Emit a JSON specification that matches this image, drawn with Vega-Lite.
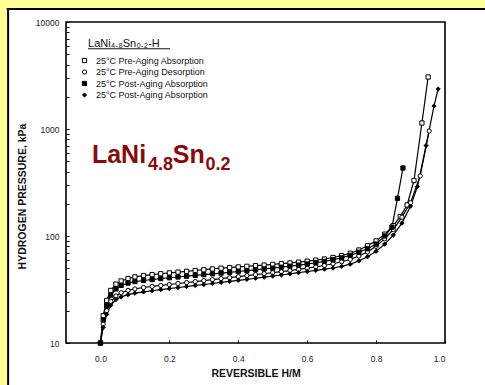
{
  "$schema": "https://vega.github.io/schema/vega-lite/v6.json",
  "width": 379,
  "height": 321,
  "autosize": {"type": "none"},
  "padding": {"left": 66, "top": 22, "right": 40, "bottom": 42},
  "background": "white",
  "config": {
    "view": {"stroke": "black", "strokeWidth": 1.6},
    "font": "Liberation Sans",
    "axis": {"grid": false, "domain": false, "tickColor": "black", "labelColor": "#222", "labelFontSize": 8.5, "titleColor": "#111", "titleFontSize": 10.5, "titleFontWeight": "bold"}
  },
  "datasets": {
    "iso": [
      {"s": "A", "x": 0, "p": 10}, {"s": "A", "x": 0.008, "p": 18}, {"s": "A", "x": 0.018, "p": 25}, {"s": "A", "x": 0.03, "p": 31}, {"s": "A", "x": 0.045, "p": 35.5}, {"s": "A", "x": 0.06, "p": 38}, {"s": "A", "x": 0.08, "p": 40}, {"s": "A", "x": 0.1, "p": 41.5}, {"s": "A", "x": 0.125, "p": 42.7}, {"s": "A", "x": 0.15, "p": 43.6}, {"s": "A", "x": 0.175, "p": 44.4}, {"s": "A", "x": 0.2, "p": 45.2}, {"s": "A", "x": 0.225, "p": 46}, {"s": "A", "x": 0.25, "p": 46.8}, {"s": "A", "x": 0.275, "p": 47.6}, {"s": "A", "x": 0.3, "p": 48.4}, {"s": "A", "x": 0.325, "p": 49.2}, {"s": "A", "x": 0.35, "p": 50}, {"s": "A", "x": 0.375, "p": 50.7}, {"s": "A", "x": 0.4, "p": 51.4}, {"s": "A", "x": 0.425, "p": 52.1}, {"s": "A", "x": 0.45, "p": 52.8}, {"s": "A", "x": 0.475, "p": 53.5}, {"s": "A", "x": 0.5, "p": 54.3}, {"s": "A", "x": 0.525, "p": 55.1}, {"s": "A", "x": 0.55, "p": 56}, {"s": "A", "x": 0.575, "p": 57}, {"s": "A", "x": 0.6, "p": 58.2}, {"s": "A", "x": 0.625, "p": 59.5}, {"s": "A", "x": 0.65, "p": 61}, {"s": "A", "x": 0.675, "p": 63}, {"s": "A", "x": 0.7, "p": 65.5}, {"s": "A", "x": 0.725, "p": 69}, {"s": "A", "x": 0.75, "p": 74}, {"s": "A", "x": 0.775, "p": 81}, {"s": "A", "x": 0.8, "p": 90}, {"s": "A", "x": 0.825, "p": 104}, {"s": "A", "x": 0.85, "p": 125}, {"s": "A", "x": 0.87, "p": 152}, {"s": "A", "x": 0.89, "p": 195}, {"s": "A", "x": 0.91, "p": 330}, {"s": "A", "x": 0.933, "p": 1138}, {"s": "A", "x": 0.951, "p": 3060},
      {"s": "B", "x": 0, "p": 10}, {"s": "B", "x": 0.008, "p": 15}, {"s": "B", "x": 0.018, "p": 20}, {"s": "B", "x": 0.03, "p": 24.5}, {"s": "B", "x": 0.045, "p": 27.5}, {"s": "B", "x": 0.06, "p": 29.5}, {"s": "B", "x": 0.08, "p": 31}, {"s": "B", "x": 0.1, "p": 32}, {"s": "B", "x": 0.125, "p": 33}, {"s": "B", "x": 0.15, "p": 33.8}, {"s": "B", "x": 0.175, "p": 34.5}, {"s": "B", "x": 0.2, "p": 35.2}, {"s": "B", "x": 0.225, "p": 36}, {"s": "B", "x": 0.25, "p": 36.7}, {"s": "B", "x": 0.275, "p": 37.5}, {"s": "B", "x": 0.3, "p": 38.3}, {"s": "B", "x": 0.325, "p": 39.1}, {"s": "B", "x": 0.35, "p": 40}, {"s": "B", "x": 0.375, "p": 40.8}, {"s": "B", "x": 0.4, "p": 41.7}, {"s": "B", "x": 0.425, "p": 42.6}, {"s": "B", "x": 0.45, "p": 43.5}, {"s": "B", "x": 0.475, "p": 44.4}, {"s": "B", "x": 0.5, "p": 45.4}, {"s": "B", "x": 0.525, "p": 46.4}, {"s": "B", "x": 0.55, "p": 47.5}, {"s": "B", "x": 0.575, "p": 48.7}, {"s": "B", "x": 0.6, "p": 50}, {"s": "B", "x": 0.625, "p": 51.4}, {"s": "B", "x": 0.65, "p": 53}, {"s": "B", "x": 0.675, "p": 55}, {"s": "B", "x": 0.7, "p": 57.5}, {"s": "B", "x": 0.725, "p": 60.5}, {"s": "B", "x": 0.75, "p": 65}, {"s": "B", "x": 0.775, "p": 71}, {"s": "B", "x": 0.8, "p": 80}, {"s": "B", "x": 0.825, "p": 94}, {"s": "B", "x": 0.85, "p": 115}, {"s": "B", "x": 0.875, "p": 150}, {"s": "B", "x": 0.9, "p": 205}, {"s": "B", "x": 0.928, "p": 364}, {"s": "B", "x": 0.954, "p": 957},
      {"s": "C", "x": 0, "p": 10}, {"s": "C", "x": 0.008, "p": 16.5}, {"s": "C", "x": 0.018, "p": 22.5}, {"s": "C", "x": 0.03, "p": 28}, {"s": "C", "x": 0.045, "p": 32}, {"s": "C", "x": 0.06, "p": 34.5}, {"s": "C", "x": 0.08, "p": 36.3}, {"s": "C", "x": 0.1, "p": 37.5}, {"s": "C", "x": 0.125, "p": 38.4}, {"s": "C", "x": 0.15, "p": 39.2}, {"s": "C", "x": 0.175, "p": 40}, {"s": "C", "x": 0.2, "p": 40.7}, {"s": "C", "x": 0.225, "p": 41.4}, {"s": "C", "x": 0.25, "p": 42.1}, {"s": "C", "x": 0.275, "p": 42.8}, {"s": "C", "x": 0.3, "p": 43.5}, {"s": "C", "x": 0.325, "p": 44.3}, {"s": "C", "x": 0.35, "p": 45}, {"s": "C", "x": 0.375, "p": 45.8}, {"s": "C", "x": 0.4, "p": 46.6}, {"s": "C", "x": 0.425, "p": 47.4}, {"s": "C", "x": 0.45, "p": 48.3}, {"s": "C", "x": 0.475, "p": 49.2}, {"s": "C", "x": 0.5, "p": 50.1}, {"s": "C", "x": 0.525, "p": 51.1}, {"s": "C", "x": 0.55, "p": 52.2}, {"s": "C", "x": 0.575, "p": 53.4}, {"s": "C", "x": 0.6, "p": 54.7}, {"s": "C", "x": 0.625, "p": 56.2}, {"s": "C", "x": 0.65, "p": 58}, {"s": "C", "x": 0.675, "p": 60}, {"s": "C", "x": 0.7, "p": 62.5}, {"s": "C", "x": 0.725, "p": 66}, {"s": "C", "x": 0.75, "p": 70.5}, {"s": "C", "x": 0.775, "p": 76}, {"s": "C", "x": 0.8, "p": 84}, {"s": "C", "x": 0.825, "p": 100}, {"s": "C", "x": 0.846, "p": 121}, {"s": "C", "x": 0.862, "p": 225}, {"s": "C", "x": 0.878, "p": 432},
      {"s": "D", "x": 0, "p": 10}, {"s": "D", "x": 0.008, "p": 14}, {"s": "D", "x": 0.018, "p": 18.5}, {"s": "D", "x": 0.03, "p": 22.5}, {"s": "D", "x": 0.045, "p": 25.5}, {"s": "D", "x": 0.06, "p": 27}, {"s": "D", "x": 0.08, "p": 28.3}, {"s": "D", "x": 0.1, "p": 29.2}, {"s": "D", "x": 0.125, "p": 30}, {"s": "D", "x": 0.15, "p": 30.8}, {"s": "D", "x": 0.175, "p": 31.5}, {"s": "D", "x": 0.2, "p": 32.2}, {"s": "D", "x": 0.225, "p": 33}, {"s": "D", "x": 0.25, "p": 33.7}, {"s": "D", "x": 0.275, "p": 34.5}, {"s": "D", "x": 0.3, "p": 35.2}, {"s": "D", "x": 0.325, "p": 36}, {"s": "D", "x": 0.35, "p": 36.8}, {"s": "D", "x": 0.375, "p": 37.6}, {"s": "D", "x": 0.4, "p": 38.5}, {"s": "D", "x": 0.425, "p": 39.4}, {"s": "D", "x": 0.45, "p": 40.3}, {"s": "D", "x": 0.475, "p": 41.2}, {"s": "D", "x": 0.5, "p": 42.2}, {"s": "D", "x": 0.525, "p": 43.2}, {"s": "D", "x": 0.55, "p": 44.3}, {"s": "D", "x": 0.575, "p": 45.4}, {"s": "D", "x": 0.6, "p": 46.6}, {"s": "D", "x": 0.625, "p": 47.8}, {"s": "D", "x": 0.65, "p": 49}, {"s": "D", "x": 0.675, "p": 50.2}, {"s": "D", "x": 0.7, "p": 52}, {"s": "D", "x": 0.725, "p": 54.5}, {"s": "D", "x": 0.75, "p": 58.5}, {"s": "D", "x": 0.775, "p": 64}, {"s": "D", "x": 0.8, "p": 72}, {"s": "D", "x": 0.825, "p": 84}, {"s": "D", "x": 0.85, "p": 102}, {"s": "D", "x": 0.875, "p": 132}, {"s": "D", "x": 0.9, "p": 190}, {"s": "D", "x": 0.92, "p": 290}, {"s": "D", "x": 0.945, "p": 700}, {"s": "D", "x": 0.968, "p": 1640}, {"s": "D", "x": 0.98, "p": 2365}
    ]
  },
  "layer": [
    {
      "data": {"name": "iso"},
      "mark": {"type": "line", "color": "black", "strokeWidth": 1.2},
      "encoding": {
        "x": {
          "field": "x", "type": "quantitative",
          "scale": {"domain": [-0.1, 1.0], "nice": false, "zero": false},
          "axis": {
            "title": "REVERSIBLE H/M",
            "values": [0, 0.05, 0.1, 0.15, 0.2, 0.25, 0.3, 0.35, 0.4, 0.45, 0.5, 0.55, 0.6, 0.65, 0.7, 0.75, 0.8, 0.85, 0.9, 0.95, 1.0],
            "labelExpr": "round(datum.value * 100) % 10 == 0 ? format(datum.value, '.1f') : ''",
            "tickSize": -3,
            "labelPadding": 14,
            "titlePadding": 6
          }
        },
        "y": {
          "field": "p", "type": "quantitative",
          "scale": {"type": "log", "domain": [10, 10000], "nice": false},
          "axis": {
            "title": "HYDROGEN PRESSURE, kPa",
            "titleY": 174,
            "values": [10, 20, 30, 40, 50, 60, 70, 80, 90, 100, 200, 300, 400, 500, 600, 700, 800, 900, 1000, 2000, 3000, 4000, 5000, 6000, 7000, 8000, 9000, 10000],
            "labelExpr": "(datum.value == 10 || datum.value == 100 || datum.value == 1000 || datum.value == 10000) ? format(datum.value, 'd') : ''",
            "tickSize": -3,
            "labelPadding": 10,
            "titlePadding": 8
          }
        },
        "detail": {"field": "s"}
      }
    },
    {
      "data": {"name": "iso"},
      "mark": {"type": "point", "strokeWidth": 1, "opacity": 1, "size": 18, "filled": false},
      "encoding": {
        "x": {"field": "x", "type": "quantitative"},
        "y": {"field": "p", "type": "quantitative"},
        "shape": {
          "field": "s", "type": "nominal",
          "scale": {"domain": ["A", "B", "C", "D"], "range": ["square", "circle", "square", "diamond"]},
          "legend": {"title": null, "orient": "none", "legendX": 14, "legendY": 34, "padding": 0, "labelFontSize": 9, "labelColor": "#111", "labelOffset": 7, "rowPadding": 1.5, "symbolSize": 18, "symbolStrokeWidth": 1,
            "labelExpr": "datum.label == 'A' ? '25°C Pre-Aging Absorption' : datum.label == 'B' ? '25°C Pre-Aging Desorption' : '25°C Post-Aging Absorption'"}
        },
        "fill": {
          "field": "s", "type": "nominal",
          "scale": {"domain": ["A", "B", "C", "D"], "range": ["white", "white", "black", "black"]},
          "legend": {"title": null, "orient": "none", "legendX": 14, "legendY": 34, "padding": 0, "labelFontSize": 9, "labelColor": "#111", "labelOffset": 7, "rowPadding": 1.5, "symbolSize": 18, "symbolStrokeWidth": 1,
            "labelExpr": "datum.label == 'A' ? '25°C Pre-Aging Absorption' : datum.label == 'B' ? '25°C Pre-Aging Desorption' : '25°C Post-Aging Absorption'"}
        },
        "stroke": {
          "field": "s", "type": "nominal",
          "scale": {"domain": ["A", "B", "C", "D"], "range": ["black", "black", "black", "black"]},
          "legend": {"title": null, "orient": "none", "legendX": 14, "legendY": 34, "padding": 0, "labelFontSize": 9, "labelColor": "#111", "labelOffset": 7, "rowPadding": 1.5, "symbolSize": 18, "symbolStrokeWidth": 1,
            "labelExpr": "datum.label == 'A' ? '25°C Pre-Aging Absorption' : datum.label == 'B' ? '25°C Pre-Aging Desorption' : '25°C Post-Aging Absorption'"}
        }
      }
    },
    {
      "data": {"values": [{}]},
      "mark": {"type": "rect", "fill": "#FFFF99", "clip": false},
      "encoding": {
        "x": {"datum": -0.6, "type": "quantitative"},
        "x2": {"datum": -0.268},
        "y": {"datum": 1000000, "type": "quantitative"},
        "y2": {"datum": 1}
      }
    },
    {
      "data": {"values": [{}]},
      "mark": {"type": "rect", "fill": "#FFFF99", "clip": false},
      "encoding": {
        "x": {"datum": -0.6, "type": "quantitative"},
        "x2": {"datum": 1.5},
        "y": {"datum": 1000000, "type": "quantitative"},
        "y2": {"datum": 13200}
      }
    },
    {
      "data": {"values": [{}]},
      "mark": {"type": "rule", "color": "black", "strokeWidth": 2, "clip": false},
      "encoding": {
        "x": {"datum": -0.268, "type": "quantitative"},
        "y": {"datum": 13200, "type": "quantitative"},
        "y2": {"datum": 1}
      }
    },
    {
      "data": {"values": [{}]},
      "mark": {"type": "rule", "color": "black", "strokeWidth": 2, "clip": false},
      "encoding": {
        "x": {"datum": -0.272, "type": "quantitative"},
        "x2": {"datum": 1.5},
        "y": {"datum": 13200, "type": "quantitative"}
      }
    },
    {
      "data": {"values": [{}]},
      "mark": {"type": "text", "text": "LaNi₄.₈Sn₀.₂-H", "fontSize": 11, "align": "left", "baseline": "alphabetic", "color": "#111"},
      "encoding": {"x": {"datum": -0.036}, "y": {"datum": 5830}}
    },
    {
      "data": {"values": [{}]},
      "mark": {"type": "rule", "color": "#111", "strokeWidth": 1},
      "encoding": {"x": {"datum": -0.036}, "x2": {"datum": 0.202}, "y": {"datum": 5620}}
    },
    {
      "data": {"values": [{}]},
      "mark": {"type": "text", "text": "LaNi", "fontSize": 25, "fontWeight": "bold", "align": "left", "baseline": "alphabetic", "color": "#8B0A0A"},
      "encoding": {"x": {"datum": -0.0247}, "y": {"datum": 481}}
    },
    {
      "data": {"values": [{}]},
      "mark": {"type": "text", "text": "4.8", "fontSize": 18, "fontWeight": "bold", "align": "left", "baseline": "alphabetic", "color": "#8B0A0A"},
      "encoding": {"x": {"datum": 0.138}, "y": {"datum": 414}}
    },
    {
      "data": {"values": [{}]},
      "mark": {"type": "text", "text": "Sn", "fontSize": 25, "fontWeight": "bold", "align": "left", "baseline": "alphabetic", "color": "#8B0A0A"},
      "encoding": {"x": {"datum": 0.21}, "y": {"datum": 481}}
    },
    {
      "data": {"values": [{}]},
      "mark": {"type": "text", "text": "0.2", "fontSize": 18, "fontWeight": "bold", "align": "left", "baseline": "alphabetic", "color": "#8B0A0A"},
      "encoding": {"x": {"datum": 0.305}, "y": {"datum": 414}}
    }
  ]
}
